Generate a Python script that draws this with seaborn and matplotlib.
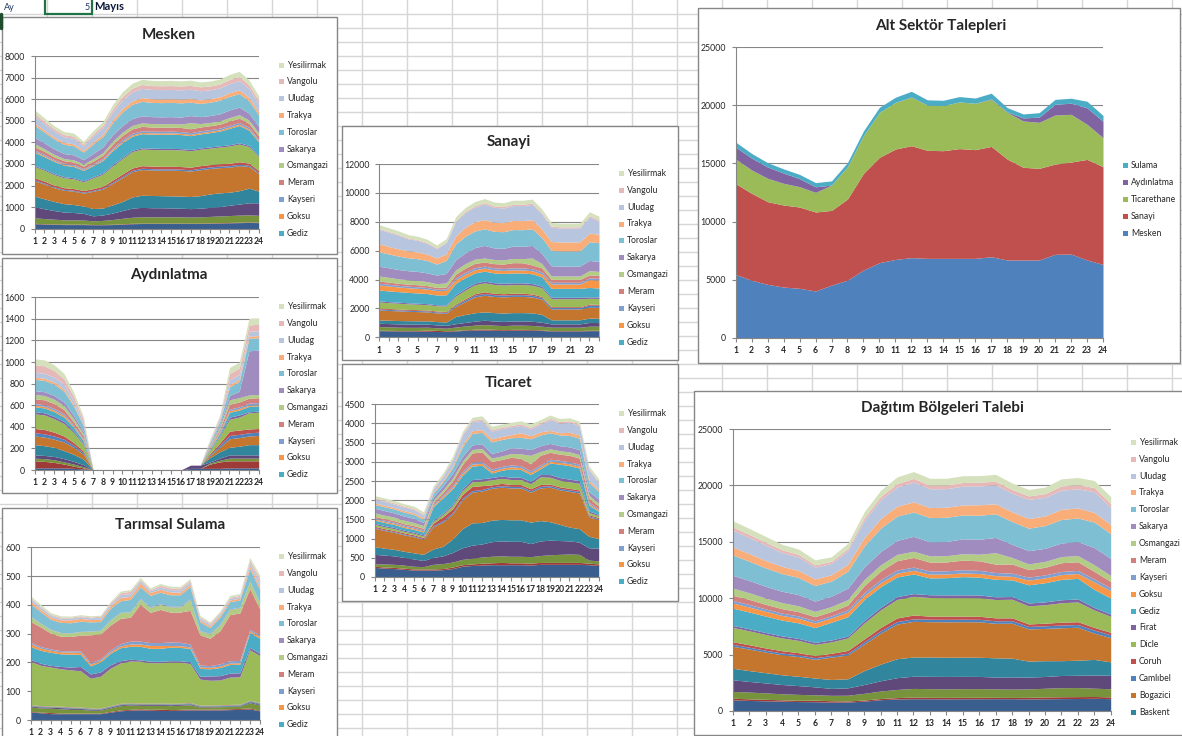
"""Mayis ayi saatlik talep grafikleri (Excel ekran goruntusunun yeniden cizimi)."""
import numpy as np
import pandas as pd
import seaborn as sns
import matplotlib.pyplot as plt
from matplotlib.patches import Rectangle

sns.set_theme(style="white")
plt.rcParams["font.family"] = ["Lato", "DejaVu Sans"]

HOURS = list(range(1, 25))

REGIONS = ["Akdeniz", "Akedas", "Aras", "Ayedas", "Baskent", "Bogazici",
           "Camlıbel", "Coruh", "Dicle", "Firat", "Gediz", "Goksu",
           "Kayseri", "Meram", "Osmangazi", "Sakarya", "Toroslar", "Trakya",
           "Uludag", "Vangolu", "Yesilirmak"]

REGION_COLORS = ["#3A5F8E", "#9E3B38", "#77933C", "#5F497A", "#31859C", "#C4762F",
                 "#4F81BD", "#C0504D", "#9BBB59", "#8064A2", "#4BACC6", "#F79646",
                 "#7F9FD0", "#D1807E", "#B2CB85", "#A08CBE", "#7FBFD3", "#F9AD78",
                 "#B7C5DF", "#E6B9B8", "#D4E1BC"]

# one row per region (Akdeniz ... Yesilirmak), one value per hour
MESKEN = [
    [230,210,200,190,190,190,180,180,190,210,230,240,240,240,240,240,240,240,250,260,270,280,290,280],
    [20,20,20,20,20,20,15,15,15,20,20,20,20,20,20,20,20,20,20,20,20,20,20,20],
    [250,240,220,200,200,190,170,190,220,250,280,290,290,290,290,290,280,290,300,310,320,330,330,320],
    [520,450,400,360,340,310,230,250,300,360,420,440,420,420,410,400,390,400,420,430,480,510,560,580],
    [490,460,420,390,370,340,340,320,380,420,520,560,570,560,560,560,560,580,620,640,600,620,680,540],
    [700,690,640,620,620,600,800,880,1000,1100,1170,1190,1180,1180,1190,1190,1180,1200,1180,1170,1160,1160,1000,810],
    [50,40,40,40,40,40,40,40,50,60,60,60,60,60,60,60,60,70,70,70,70,70,60,50],
    [100,90,80,80,80,80,80,90,100,110,110,120,120,120,120,120,120,120,110,110,110,110,100,90],
    [520,500,480,460,450,400,500,560,650,720,760,770,770,770,770,770,760,760,760,770,800,820,760,650],
    [50,50,50,50,50,50,50,50,60,60,60,60,60,60,60,60,60,60,60,60,60,60,60,50],
    [600,580,560,530,520,480,520,580,650,680,650,650,650,650,660,650,640,650,660,680,760,800,700,620],
    [50,50,40,40,40,40,40,50,60,60,60,60,60,60,60,60,60,60,60,60,60,60,60,50],
    [60,60,50,50,50,50,50,60,70,80,80,80,80,80,80,80,80,80,80,80,80,80,80,70],
    [150,140,130,120,120,110,120,140,170,190,200,200,190,190,190,190,180,180,180,180,200,200,180,160],
    [140,120,110,100,100,90,110,120,140,150,160,160,160,160,160,160,280,160,150,150,160,160,150,140],
    [300,270,250,230,230,210,240,260,290,310,320,330,320,320,320,320,330,320,320,330,350,350,320,300],
    [550,500,460,430,420,350,440,480,570,630,660,670,660,660,660,660,620,610,620,630,630,630,570,540],
    [100,90,90,90,90,80,100,110,130,150,160,170,170,170,170,170,170,170,160,160,170,170,160,140],
    [330,300,280,260,260,200,270,300,360,400,420,430,430,430,430,430,430,420,410,410,420,430,410,380],
    [120,110,100,100,100,90,100,120,140,160,170,180,180,180,180,180,180,180,180,180,190,190,170,150],
    [170,160,150,140,140,130,150,170,200,220,230,240,240,240,240,240,240,230,230,230,240,240,230,210],
]

SANAYI = [
    [460,450,440,440,430,420,400,400,440,480,500,500,490,480,490,490,490,470,440,440,440,440,460,460],
    [30,30,30,30,40,80,80,50,40,40,60,80,60,50,60,60,50,40,30,30,30,30,30,30],
    [250,240,230,220,220,200,180,180,230,260,280,300,290,280,290,290,280,260,230,230,230,230,280,280],
    [230,230,230,230,220,210,200,200,230,250,280,300,290,290,290,290,290,270,230,230,230,230,260,250],
    [230,230,230,230,230,230,230,230,500,550,580,580,580,580,580,580,580,550,280,280,280,280,300,300],
    [690,680,670,650,640,620,600,600,700,900,1100,1150,1120,1120,1120,1120,1100,1050,750,750,750,750,750,750],
    [70,70,70,70,70,70,70,70,100,110,120,120,120,120,120,120,120,110,100,100,100,100,150,150],
    [60,60,60,60,60,60,60,60,70,80,100,120,100,100,100,100,90,80,60,60,60,60,70,70],
    [420,410,400,390,380,370,360,380,550,600,620,620,610,600,600,600,600,600,550,550,550,550,400,400],
    [70,70,70,70,70,70,70,70,100,110,120,120,120,120,120,120,120,110,100,100,100,100,100,100],
    [760,740,730,720,710,700,680,700,780,750,700,690,680,680,690,680,680,650,620,620,620,620,650,620],
    [350,340,330,320,320,310,300,310,250,230,220,210,210,210,210,210,210,200,300,300,300,300,550,550],
    [120,120,110,110,110,110,100,110,130,140,140,140,140,140,140,140,140,140,120,120,120,120,120,120],
    [150,150,140,140,140,130,120,130,250,300,300,280,290,300,360,360,260,280,200,200,200,200,200,200],
    [350,330,310,300,300,280,260,280,300,300,290,280,290,290,290,290,480,300,240,240,240,240,300,280],
    [680,660,640,630,620,600,600,650,700,750,800,870,800,800,850,850,870,700,700,680,680,690,700,690],
    [1000,960,930,900,880,860,760,900,1100,1150,1150,1150,1150,1150,1150,1150,1150,1100,1060,1050,1050,1050,1300,1300],
    [550,520,500,480,470,440,420,450,550,620,640,640,630,630,630,630,630,600,620,620,620,620,600,580],
    [1000,980,950,830,800,750,640,780,1000,1020,1020,1080,1030,1010,1030,1040,1060,1040,990,970,970,970,1120,900],
    [60,60,60,60,60,60,60,60,80,90,100,100,100,100,100,100,100,90,80,80,80,80,90,90],
    [260,250,240,230,230,220,200,220,250,260,280,280,270,270,270,270,270,260,250,250,250,250,260,260],
]

TICARET = [
    [250,230,220,200,180,180,180,190,220,280,300,310,320,320,320,320,310,330,330,330,330,330,320,300],
    [30,30,30,30,30,30,30,30,40,40,40,50,50,60,50,50,50,50,50,50,50,50,40,40],
    [60,80,80,80,70,60,120,130,130,140,150,160,170,170,170,170,170,180,200,210,220,210,80,80],
    [250,230,220,200,190,160,180,200,250,300,340,340,380,390,390,390,340,380,380,360,340,320,320,330],
    [200,180,170,160,160,160,220,250,350,500,580,560,560,560,560,560,560,530,480,420,360,350,300,250],
    [480,460,440,430,420,390,580,630,650,750,800,820,830,840,830,830,780,850,900,900,930,930,500,500],
    [20,20,20,20,20,20,30,40,40,40,40,40,40,40,40,40,40,40,40,40,40,40,30,20],
    [30,30,30,30,30,30,60,100,100,100,110,100,50,60,50,50,50,50,40,40,40,40,30,30],
    [50,50,50,40,40,40,50,60,80,100,120,120,130,130,130,130,130,200,180,170,170,170,60,50],
    [30,30,30,30,30,30,30,30,40,50,60,60,60,60,60,60,60,60,70,70,70,70,40,30],
    [80,80,80,70,70,70,350,400,400,350,350,350,120,150,220,200,180,150,300,350,350,330,150,80],
    [30,30,30,30,30,30,30,40,40,50,50,50,50,50,50,50,50,50,50,50,50,50,40,30],
    [30,30,30,30,30,30,30,40,40,50,50,50,50,50,50,50,50,50,50,50,50,50,40,30],
    [40,40,40,40,40,40,50,60,120,180,240,250,200,180,200,190,180,250,180,160,170,160,100,80],
    [90,90,90,90,80,70,60,70,80,90,90,90,90,90,100,120,220,100,90,90,90,90,80,70],
    [120,120,110,110,110,80,80,100,120,120,120,120,120,130,150,150,150,150,140,130,130,130,100,110],
    [100,100,100,100,100,80,100,100,150,250,300,300,300,300,260,280,280,280,280,280,300,300,230,200],
    [40,40,40,40,40,40,30,40,50,60,70,70,80,80,80,120,80,80,60,60,80,80,60,50],
    [100,100,90,90,90,70,80,110,150,240,240,240,200,200,200,190,180,200,280,250,260,240,260,180],
    [30,30,30,30,30,30,30,30,40,40,40,40,40,40,40,40,40,40,40,40,40,40,40,30],
    [60,60,60,60,60,60,50,60,60,60,70,80,90,80,80,80,90,80,80,80,80,80,70,70],
]

AYDINLATMA = [
    [20,20,20,20,15,10,0,0,0,0,0,0,0,0,0,0,15,15,15,15,20,20,20,20],
    [65,60,50,35,20,10,0,0,0,0,0,0,0,0,0,0,0,0,40,60,65,65,65,65],
    [25,25,25,20,20,10,0,0,0,0,0,0,0,0,0,0,0,0,10,15,25,25,25,25],
    [30,30,30,30,25,20,0,0,0,0,0,0,0,0,0,0,30,30,10,20,30,30,30,30],
    [95,90,85,75,65,50,0,0,0,0,0,0,0,0,0,0,0,0,40,60,70,80,95,95],
    [80,80,75,80,65,45,0,0,0,0,0,0,0,0,0,0,0,0,20,40,80,80,80,85],
    [30,30,30,25,20,15,0,0,0,0,0,0,0,0,0,0,0,0,10,20,30,30,30,30],
    [40,40,35,30,25,15,0,0,0,0,0,0,0,0,0,0,0,0,10,20,40,40,35,35],
    [135,135,125,115,90,60,0,0,0,0,0,0,0,0,0,0,0,0,30,60,110,120,150,150],
    [20,20,20,20,15,10,0,0,0,0,0,0,0,0,0,0,0,0,5,10,20,20,10,10],
    [45,45,45,40,35,25,0,0,0,0,0,0,0,0,0,0,0,0,10,20,45,45,50,50],
    [15,15,15,15,10,10,0,0,0,0,0,0,0,0,0,0,0,0,5,10,15,15,10,10],
    [15,15,15,15,10,10,0,0,0,0,0,0,0,0,0,0,0,0,5,10,15,15,20,20],
    [45,45,45,40,30,25,0,0,0,0,0,0,0,0,0,0,0,0,10,20,45,45,45,45],
    [40,40,40,35,30,20,0,0,0,0,0,0,0,0,0,0,0,0,10,20,40,40,30,30],
    [35,35,35,35,30,20,0,0,0,0,0,0,0,0,0,0,0,0,10,20,40,60,410,410],
    [105,105,105,100,85,55,0,0,0,0,0,0,0,0,0,0,0,0,15,30,80,90,115,115],
    [20,20,20,20,15,10,0,0,0,0,0,0,0,0,0,0,0,0,5,10,20,20,20,20],
    [45,45,45,45,35,25,0,0,0,0,0,0,0,0,0,0,0,0,10,20,45,45,45,45],
    [70,70,60,50,40,25,0,0,0,0,0,0,0,0,0,0,0,0,10,15,60,60,60,60],
    [55,55,55,50,40,25,0,0,0,0,0,0,0,0,0,0,0,0,10,15,55,55,60,60],
]

SULAMA = [
    [28,25,22,22,22,22,22,22,27,32,34,35,34,33,33,34,35,35,35,35,36,37,38,32],
    [2,2,4,2,2,2,2,2,3,3,3,4,3,5,3,3,3,3,3,3,3,3,4,2],
    [15,15,15,15,13,13,10,10,12,15,15,12,14,13,14,14,15,7,7,8,8,8,18,18],
    [3,3,3,4,4,3,3,3,3,3,3,3,3,3,3,3,3,2,2,2,2,2,3,3],
    [2,2,2,2,2,2,2,2,2,2,2,2,2,2,2,2,2,2,2,2,2,2,3,3],
    [1,1,1,1,1,1,1,1,1,1,1,1,1,1,1,1,1,1,1,1,1,1,1,1],
    [1,1,1,1,1,1,1,1,1,1,1,1,1,1,1,1,1,1,1,1,1,1,1,1],
    [1,1,1,1,1,1,1,1,1,1,1,1,1,1,1,1,1,1,1,1,1,1,1,1],
    [150,140,135,130,128,126,103,110,130,140,145,145,140,140,143,142,135,90,86,86,95,95,175,163],
    [7,7,6,8,10,15,15,15,12,8,6,5,5,5,5,5,6,10,15,15,14,14,8,8],
    [45,45,45,44,45,42,28,35,40,45,45,47,45,45,47,46,47,27,25,28,30,30,52,52],
    [10,8,7,7,7,7,6,5,5,6,8,8,10,10,6,6,5,5,5,5,5,5,5,7],
    [5,5,5,4,4,5,5,5,6,8,10,10,10,10,12,12,10,7,6,8,8,8,5,5],
    [72,68,55,50,50,55,97,87,87,88,83,128,105,115,104,105,117,105,95,115,160,165,143,90],
    [17,12,12,12,12,12,12,12,17,20,18,18,17,18,18,18,37,13,15,20,18,18,24,20],
    [1,1,1,1,1,1,1,1,1,1,1,2,2,2,2,2,2,2,2,2,2,2,2,2],
    [43,40,35,35,35,35,32,30,40,40,43,40,40,40,40,40,43,30,20,25,25,25,42,45],
    [10,8,8,9,10,10,8,8,8,12,10,14,10,10,10,9,8,6,6,6,6,6,10,10],
    [8,7,6,6,6,6,6,7,6,10,10,8,6,8,8,8,8,6,6,6,6,6,12,15],
    [3,3,3,3,3,3,3,3,5,6,8,4,4,6,6,6,5,4,4,4,4,4,8,14],
    [7,7,6,5,4,4,4,4,5,6,6,7,6,6,6,6,7,6,4,5,6,6,10,12],
]

SECTORS = ["Mesken", "Sanayi", "Ticarethane", "Aydınlatma", "Sulama"]
SECTOR_COLORS = ["#4F81BD", "#C0504D", "#9BBB59", "#8064A2", "#4BACC6"]
ALT_MESKEN = [5450,4940,4590,4360,4250,4020,4530,4960,5830,6460,6740,6890,6830,6830,6830,6830,6970,6690,6690,6690,7180,7200,6690,6310]
ALT_SANAYI = [7810,7490,7120,7060,7000,6800,6430,6980,8320,9070,9500,9640,9300,9270,9450,9360,9500,8690,7980,7890,7770,7920,8660,8410]
ALT_TICARET = [2120,2010,2010,1870,1750,1690,2180,2780,3240,3870,4020,4190,3900,3880,4020,3990,4050,4020,3990,3960,4220,4110,3020,2500]
ALT_AYDINLATMA = [1030,1020,975,880,695,480,0,0,0,0,0,0,0,0,0,0,45,45,260,450,925,960,1420,1410]
ALT_SULAMA = [428,400,370,361,361,361,359,361,415,440,443,492,446,460,457,455,486,362,342,382,423,428,564,504]


W, H = 1182, 736
GRAY = "#868686"
fig = plt.figure(figsize=(W / 100, H / 100), dpi=100)

# worksheet background
bg = fig.add_axes([0, 0, 1, 1])
bg.set_xlim(0, W)
bg.set_ylim(H, 0)
bg.axis("off")
for x in range(47, W, 45):
    bg.axvline(x, color="#D6D6D6", lw=1, zorder=0)
for y in range(14, H, 14):
    bg.axhline(y, color="#D6D6D6", lw=1, zorder=0)
bg.text(4, 7, "Ay", fontsize=6.5, color="#1F3864", va="center")
bg.text(90, 7, "5", fontsize=6.5, color="#1F3864", va="center", ha="right")
bg.text(94, 7, "Mayıs", fontsize=8, fontweight="bold", color="#0D1A3A", va="center")
bg.add_patch(Rectangle((45, -2), 47, 16, fill=False, ec="#217346", lw=1.6, zorder=2))
bg.plot([1, 1], [14, 28], color="#1E4D2B", lw=2.5, zorder=2)


def frame_of(rows, names):
    return pd.DataFrame(np.array(rows).T, index=HOURS, columns=names)


def chart(box, plot, title, title_xy, df, names, colors, ymax, ystep,
          legend_names, legend_xy, legend_dy, odd_only=False):
    bx0, by0, bx1, by1 = box
    bg.add_patch(Rectangle((bx0, by0), bx1 - bx0, by1 - by0, fc="white",
                           ec=GRAY, lw=1, zorder=1))
    bg.text(*title_xy, title, fontsize=11, fontweight="bold", ha="center",
            va="center", zorder=3)

    px0, py0, px1, py1 = plot
    ax = fig.add_axes([px0 / W, 1 - py1 / H, (px1 - px0) / W, (py1 - py0) / H])
    long = df.rename_axis("saat").reset_index().melt(
        id_vars="saat", var_name="seri", value_name="talep")
    sns.histplot(data=long, x="saat", weights="talep", hue="seri",
                 hue_order=names[::-1], palette=dict(zip(names, colors)),
                 multiple="stack", element="poly", discrete=True,
                 alpha=1, linewidth=0, legend=False, ax=ax)
    ax.set_xlim(1, 24)
    ax.set_ylim(0, ymax)
    ax.set_xlabel("")
    ax.set_ylabel("")
    ax.set_yticks(range(0, ymax + 1, ystep))
    ax.set_xticks(HOURS)
    labels = [str(h) if (not odd_only or h % 2 == 1) else "" for h in HOURS]
    ax.set_xticklabels(labels, fontsize=6.2, fontweight="bold")
    ax.tick_params(axis="y", labelsize=6.3, length=3, width=0.8, color=GRAY,
                   pad=4, direction="out", left=True)
    ax.tick_params(axis="x", length=3, width=0.8, color=GRAY, pad=3,
                   direction="out", bottom=True)
    ax.grid(axis="y", color=GRAY, lw=0.8)
    ax.set_axisbelow(True)
    for side in ["top", "right"]:
        ax.spines[side].set_visible(False)
    for side in ["left", "bottom"]:
        ax.spines[side].set_color(GRAY)
        ax.spines[side].set_linewidth(0.8)

    # legend (Excel style, top entry first)
    lx, ly = legend_xy
    lookup = dict(zip(names, colors))
    for i, name in enumerate(legend_names):
        y = ly + i * legend_dy
        bg.add_patch(Rectangle((lx, y - 2.5), 5, 5, fc=lookup[name], ec="none", zorder=3))
        bg.text(lx + 8, y, name, fontsize=6.2, va="center", zorder=3)
    return ax


small_legend = REGIONS[10:][::-1]

chart((2, 17, 337, 254), (34.7, 56, 258.7, 228.7), "Mesken", (169, 35),
      frame_of(MESKEN, REGIONS), REGIONS, REGION_COLORS, 8000, 1000,
      small_legend, (279, 65), 16.8)
chart((2, 258, 337, 493), (34.7, 297.3, 258.7, 470), "Aydınlatma", (169, 275),
      frame_of(AYDINLATMA, REGIONS), REGIONS, REGION_COLORS, 1600, 200,
      small_legend, (279, 306.7), 16.8)
chart((2, 508, 337, 742), (30.7, 547.3, 259.7, 720), "Tarımsal Sulama", (170, 525),
      frame_of(SULAMA, REGIONS), REGIONS, REGION_COLORS, 600, 100,
      small_legend, (279, 556.7), 16.8)
chart((342, 126, 678, 360), (379.3, 164, 599, 337.3), "Sanayi", (509, 142),
      frame_of(SANAYI, REGIONS), REGIONS, REGION_COLORS, 12000, 2000,
      small_legend, (619, 173.3), 16.9, odd_only=True)
chart((342, 364, 678, 601), (374.7, 404.3, 598.7, 577), "Ticaret", (509, 383),
      frame_of(TICARET, REGIONS), REGIONS, REGION_COLORS, 4500, 500,
      small_legend, (619, 413.7), 16.8)

alt = frame_of([ALT_MESKEN, ALT_SANAYI, ALT_TICARET, ALT_AYDINLATMA, ALT_SULAMA], SECTORS)
chart((698, 8, 1180, 363), (735.7, 47.3, 1103, 337.7), "Alt Sektör Talepleri", (941, 26),
      alt, SECTORS, SECTOR_COLORS, 25000, 5000,
      SECTORS[::-1], (1123, 165), 17.1)

# distribution-region demand = the five sector tables added up region by region
dagitim = sum(frame_of(t, REGIONS) for t in [MESKEN, SANAYI, TICARET, AYDINLATMA, SULAMA])
chart((694, 391, 1186, 735), (732.7, 429, 1110.7, 711), "Dağıtım Bölgeleri Talebi", (942, 408),
      dagitim, REGIONS, REGION_COLORS, 25000, 5000,
      REGIONS[4:][::-1], (1131, 442.3), 16.88)

fig.savefig("out.png", dpi=100)
